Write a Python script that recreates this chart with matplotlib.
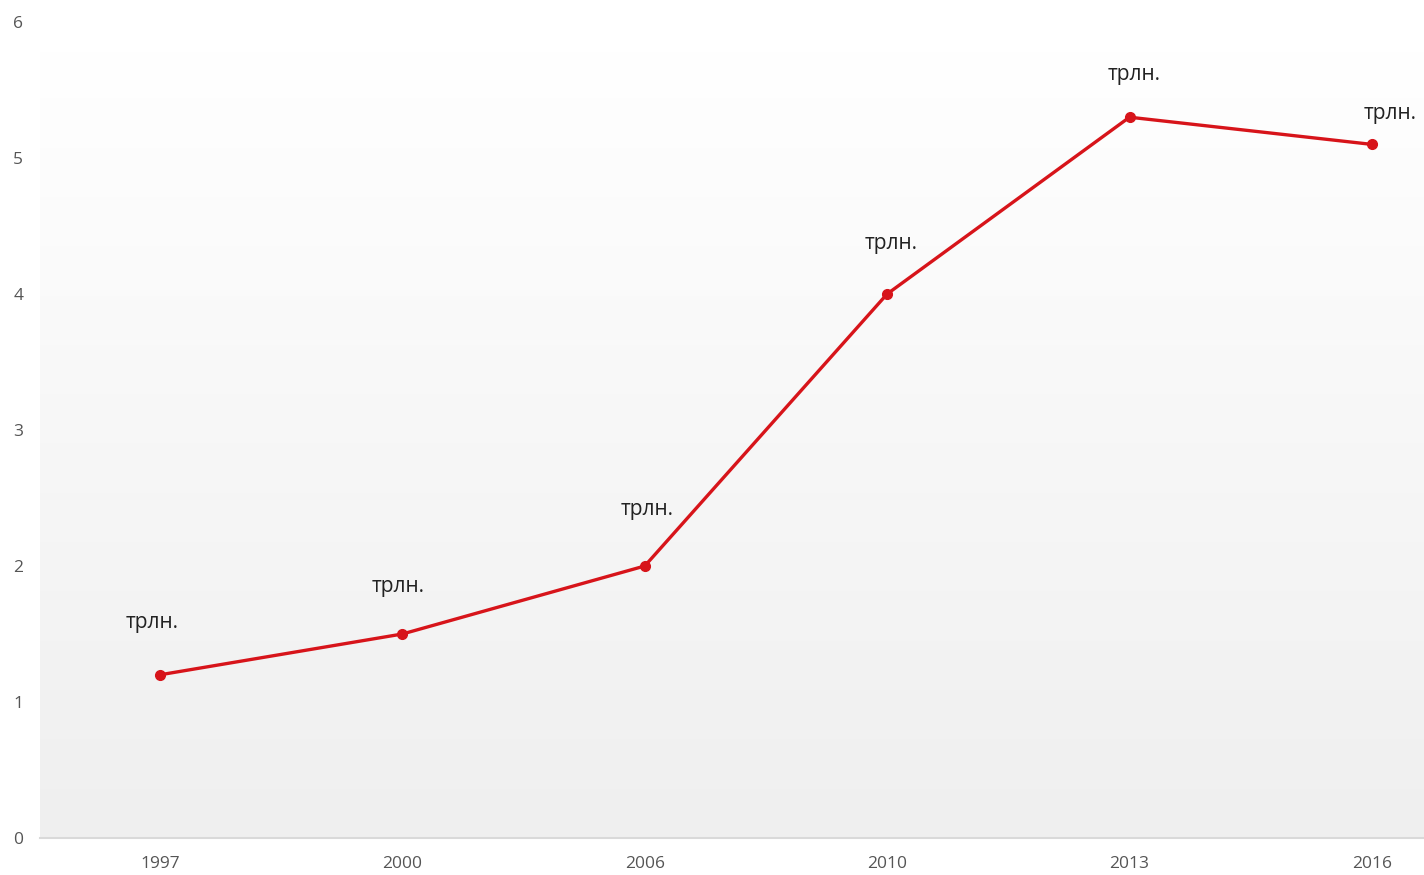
import numpy as np
import matplotlib.pyplot as plt

# Данные
years = ['1997', '2000', '2006', '2010', '2013', '2016']
values = [1.2, 1.5, 2.0, 4.0, 5.3, 5.1]
point_labels = ['трлн.'] * len(years)
label_offsets = [(-6, 38), (-3, 34), (2, 41), (3, 36), (3, 31), (13, 22)]

plt.rcParams['font.family'] = ['Open Sans', 'DejaVu Sans']

fig = plt.figure(figsize=(14.24, 8.75), dpi=100)
ax = fig.add_axes([40 / 1424, 37 / 875, 1 - 40 / 1424, (838 - 22) / 875])

x = np.arange(len(years))
ax.set_xlim(-0.495, 5.215)
ax.set_ylim(0, 6)

# фон с градиентом
grad = np.linspace(0, 1, 256).reshape(-1, 1)
ax.imshow(grad, aspect='auto', cmap=plt.matplotlib.colors.LinearSegmentedColormap.from_list(
    'bg', ['#ffffff', '#efefef']), extent=(-0.495, 5.215, 0, 5.8), origin='upper', zorder=0)

ax.plot(x, values, color='#d7141a', lw=2.4, marker='o', ms=7, zorder=3)

for xi, v, lab, (dx, dy) in zip(x, values, point_labels, label_offsets):
    ax.annotate(lab, (xi, v), xytext=(dx, dy), textcoords='offset points',
                ha='center', va='center', fontsize=15, color='#222222')

ax.set_xticks(x)
ax.set_xticklabels(years)
ax.set_yticks(range(7))
ax.tick_params(length=0, labelsize=12.5, colors='#555555')
ax.tick_params(axis='y', pad=12)
ax.tick_params(axis='x', pad=13)

for s in ['top', 'right', 'left']:
    ax.spines[s].set_visible(False)
ax.spines['bottom'].set_color('#d9d9d9')
ax.spines['bottom'].set_linewidth(1.5)

fig.savefig('out.png', dpi=100)
